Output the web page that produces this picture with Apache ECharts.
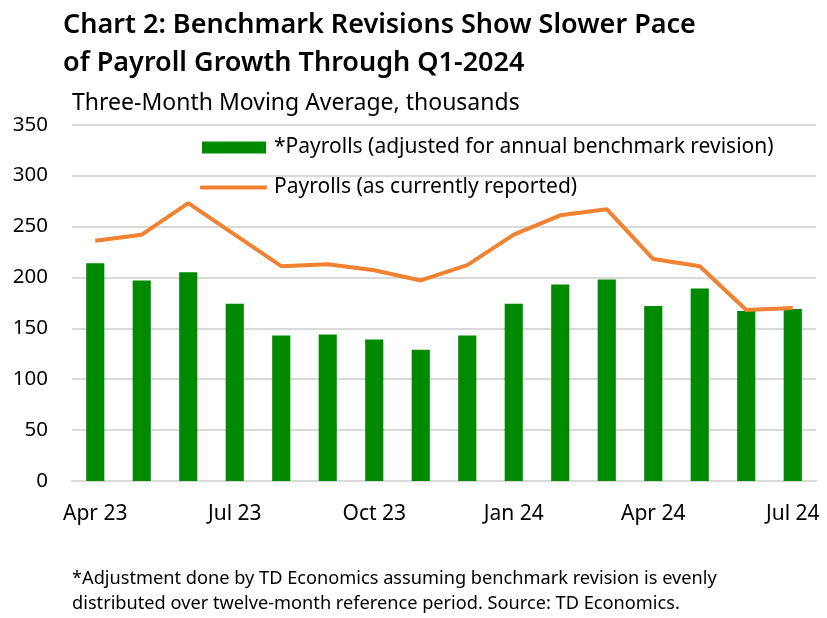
<!DOCTYPE html>
<html><head><meta charset="utf-8">
<script src="https://cdn.jsdelivr.net/npm/echarts@6/dist/echarts.min.js"></script>
<style>html,body{margin:0;padding:0;background:#fff}#c{width:827px;height:618px}</style>
</head><body><div id="c"></div>
<script>
const categories = ["Apr 23","May 23","Jun 23","Jul 23","Aug 23","Sep 23","Oct 23","Nov 23","Dec 23","Jan 24","Feb 24","Mar 24","Apr 24","May 24","Jun 24","Jul 24"];
const adjustedPayrolls = [214,197,205,174,143,144,139,129,143,174,193,198,172,189,167,169];
const reportedPayrolls = [236,242,273,242,211,213,207,197,212,242,261,267,218,211,168,170];
const yTicks = {min:0, max:350, interval:50};

const chart = echarts.init(document.getElementById('c'));
const F = "'Noto Sans', 'DejaVu Sans', sans-serif";
const barName = '*Payrolls (adjusted for annual benchmark revision)';
const lineName = 'Payrolls (as currently reported)';
chart.setOption({
  animation:false,
  textStyle:{fontFamily:F},
  title:[
    {text:"Chart 2: Benchmark Revisions Show Slower Pace\nof Payroll Growth Through Q1-2024", left:63, top:6, padding:0,
     textStyle:{fontSize:27, fontWeight:600, color:'#000', lineHeight:38, fontFamily:F}},
    {text:"Three-Month Moving Average, thousands", left:72, top:92, padding:0,
     textStyle:{fontSize:23, fontWeight:'normal', color:'#000', fontFamily:F}},
    {text:"*Adjustment done by TD Economics assuming benchmark revision is evenly\ndistributed over twelve-month reference period. Source: TD Economics.", left:72, top:566, padding:0,
     textStyle:{fontSize:18.2, fontWeight:'normal', color:'#000', lineHeight:25.5, fontFamily:F}}
  ],
  legend:[
    {left:202, top:137, padding:0, itemWidth:64, itemHeight:12, itemGap:8,
     textStyle:{fontSize:21, color:'#000', fontFamily:F, padding:[0,0,0,3]},
     data:[{name:barName, icon:'rect'}]},
    {left:200, top:177, padding:0, itemWidth:67, itemHeight:4,
     textStyle:{fontSize:21, color:'#000', fontFamily:F, padding:[0,0,0,2]},
     data:[{name:lineName, icon:'roundRect'}]}
  ],
  grid:{left:72, right:11, top:124.7, bottom:137},
  xAxis:{
    type:'category', data:categories, boundaryGap:true,
    axisLine:{show:true, lineStyle:{color:'#d9d9d9', width:2}},
    axisTick:{show:false},
    axisLabel:{interval:2, fontSize:21, color:'#000', margin:23, fontFamily:F}
  },
  yAxis:{
    type:'value', min:yTicks.min, max:yTicks.max, interval:yTicks.interval,
    axisLine:{show:false}, axisTick:{show:false},
    splitLine:{lineStyle:{color:'#d9d9d9', width:2}},
    axisLabel:{fontSize:20.5, color:'#000', margin:24, fontFamily:F}
  },
  series:[
    {name:barName, type:'bar', data:adjustedPayrolls,
     barWidth:'39%', itemStyle:{color:'#008a00'}},
    {name:lineName, type:'line', data:reportedPayrolls,
     symbol:'none', lineStyle:{color:'#f08232', width:4}, itemStyle:{color:'#f08232'}}
  ]
});
</script></body></html>
